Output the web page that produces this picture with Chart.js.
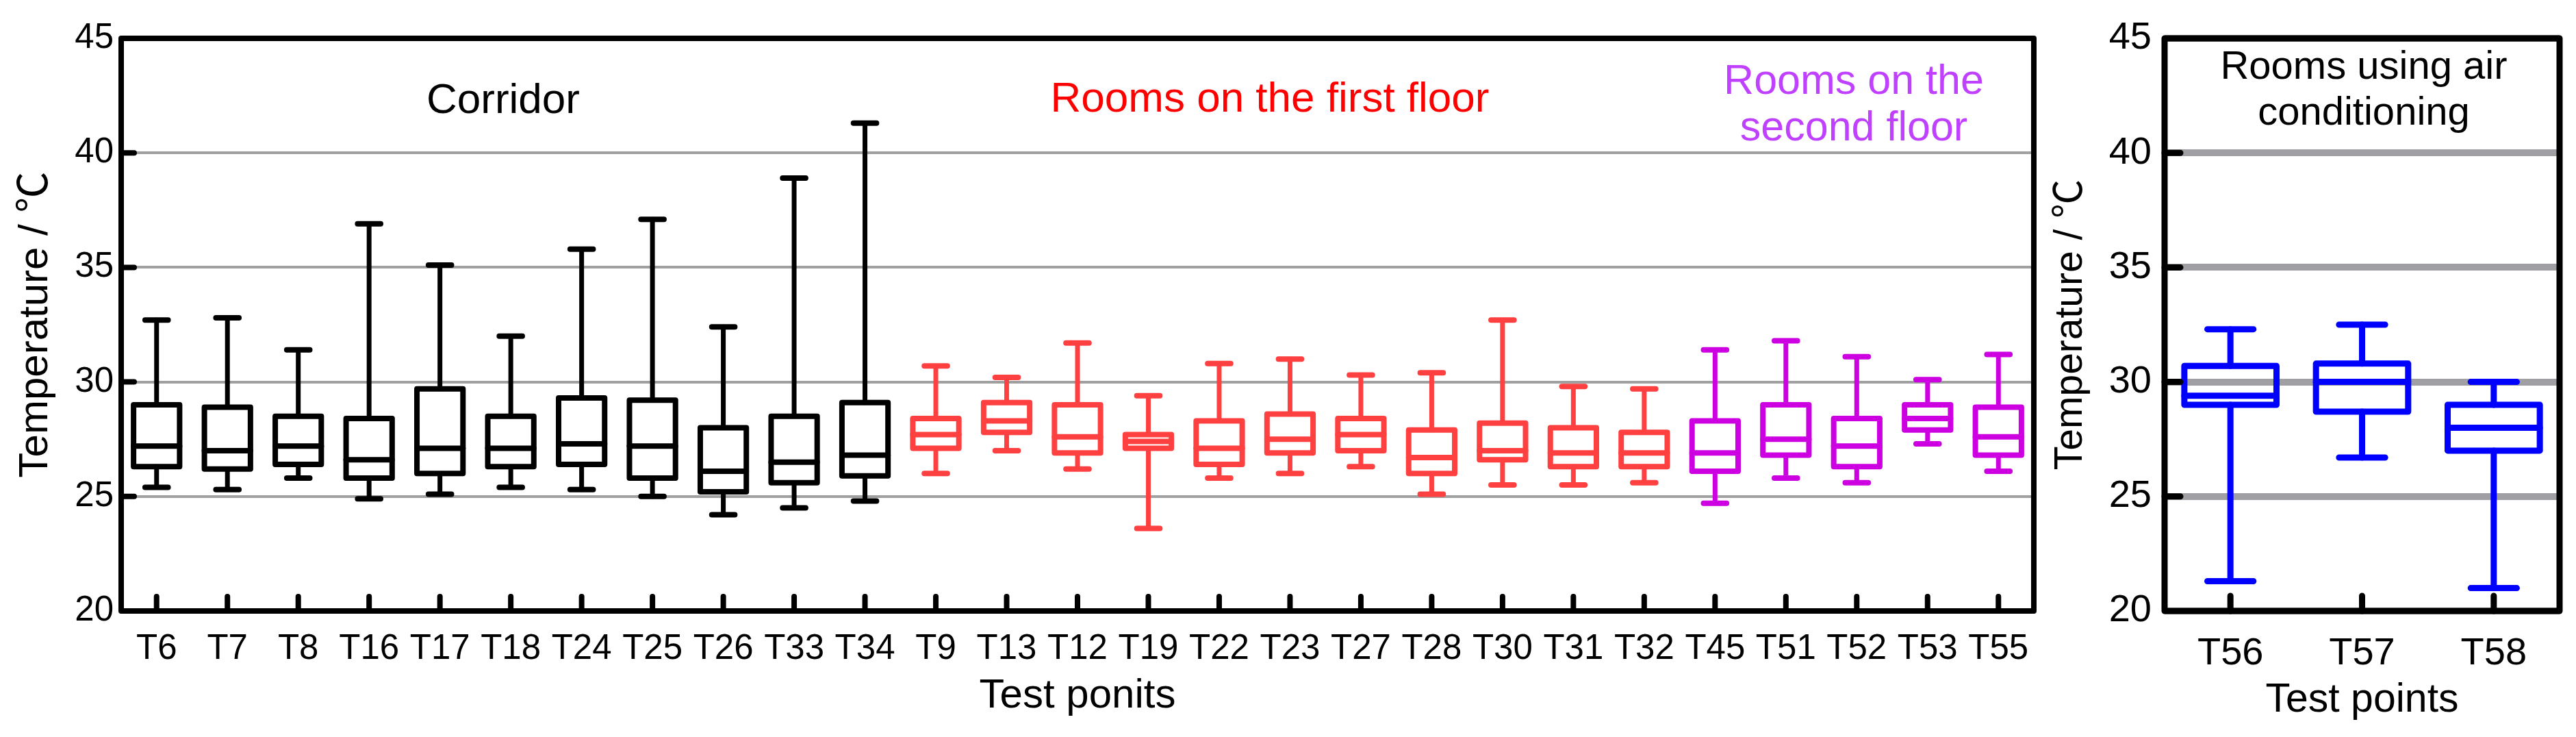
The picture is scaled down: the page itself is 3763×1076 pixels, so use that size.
<!DOCTYPE html>
<html>
<head>
<meta charset="utf-8">
<script src="https://cdn.jsdelivr.net/npm/chart.js@4.4.0/dist/chart.umd.min.js"></script>
<style>
html,body{margin:0;padding:0;background:#fff;}
#wrap{position:relative;width:3763px;height:1076px;}
#c1{position:absolute;left:0;top:0;}
#c2{position:absolute;left:2990px;top:0;}
</style>
</head>
<body>
<div id="wrap">
  <canvas id="c1" width="2990" height="1076"></canvas>
  <canvas id="c2" width="773" height="1076"></canvas>
</div>
<script>
const FONT = "'Liberation Sans', Arial, sans-serif";
const TITLE_FONT = "'Liberation Sans', Arial, 'Noto Sans CJK SC', sans-serif";

// left panel: test points by group
const corridor = ['T6','T7','T8','T16','T17','T18','T24','T25','T26','T33','T34'];
const floor1 = ['T9','T13','T12','T19','T22','T23','T27','T28','T30','T31','T32'];
const floor2 = ['T45','T51','T52','T53','T55'];
const points = [...corridor, ...floor1, ...floor2];

const tMin = [25.4,25.3,25.8,24.9,25.1,25.4,25.3,25.0,24.2,24.5,24.8,
              26.0,27.0,26.2,23.6,25.8,26.0,26.3,25.1,25.5,25.5,25.6,
              24.7,25.8,25.6,27.3,26.1];
const tQ1  = [26.3,26.2,26.4,25.8,26.0,26.3,26.4,25.8,25.2,25.6,25.9,
              27.1,27.8,26.9,27.1,26.4,26.9,27.0,26.0,26.6,26.3,26.3,
              26.1,26.8,26.3,27.9,26.8];
const tMed = [27.2,27.0,27.2,26.6,27.1,27.1,27.3,27.2,26.1,26.5,26.8,
              27.7,28.3,27.6,27.4,27.1,27.5,27.7,26.7,27.0,26.9,26.9,
              26.9,27.5,27.2,28.4,27.6];
const tQ3  = [29.0,28.9,28.5,28.4,29.7,28.5,29.3,29.2,28.0,28.5,29.1,
              28.4,29.1,29.0,27.7,28.3,28.6,28.4,27.9,28.2,28.0,27.8,
              28.3,29.0,28.4,29.0,28.9];
const tMax = [32.7,32.8,31.4,36.9,35.1,32.0,35.8,37.1,32.4,38.9,41.3,
              30.7,30.2,31.7,29.4,30.8,31.0,30.3,30.4,32.7,29.8,29.7,
              31.4,31.8,31.1,30.1,31.2];

// right panel: air-conditioned rooms
const acPoints = ['T56','T57','T58'];
const acMin = [21.3,26.7,21.0];
const acQ1  = [29.0,28.7,27.0];
const acMed = [29.4,30.0,28.0];
const acQ3  = [30.7,30.8,29.0];
const acMax = [32.3,32.5,30.0];

const yTicks = [20,25,30,35,40,45];

const colCorridor = '#000000', colFloor1 = '#ff4040', colFloor2 = '#cc00e0', colAC = '#0000ff';
const leftColors = points.map(p => corridor.includes(p) ? colCorridor : floor1.includes(p) ? colFloor1 : colFloor2);

function boxPlugin(o) {
  return {
    id: 'boxes',
    afterDatasetsDraw(chart) {
      const ctx = chart.ctx, y = chart.scales.y;
      const bars = chart.getDatasetMeta(0).data;
      ctx.save();
      ctx.lineCap = 'round';
      ctx.lineJoin = 'round';
      bars.forEach((bar, i) => {
        const x = bar.x, hw = bar.width / 2, cw = hw * 0.5;
        const pMin = y.getPixelForValue(o.min[i]), pQ1 = y.getPixelForValue(o.q1[i]);
        const pMed = y.getPixelForValue(o.med[i]), pQ3 = y.getPixelForValue(o.q3[i]);
        const pMax = y.getPixelForValue(o.max[i]);
        ctx.strokeStyle = o.colors[i];
        ctx.lineWidth = o.whisker;
        ctx.beginPath();
        ctx.moveTo(x, pMax); ctx.lineTo(x, pQ3);
        ctx.moveTo(x, pQ1); ctx.lineTo(x, pMin);
        ctx.stroke();
        ctx.lineWidth = o.lw;
        ctx.beginPath();
        ctx.moveTo(x - cw, pMax); ctx.lineTo(x + cw, pMax);
        ctx.moveTo(x - cw, pMin); ctx.lineTo(x + cw, pMin);
        ctx.stroke();
        ctx.beginPath();
        ctx.rect(x - hw, pQ3, hw * 2, pQ1 - pQ3);
        ctx.stroke();
        ctx.beginPath();
        ctx.moveTo(x - hw, pMed); ctx.lineTo(x + hw, pMed);
        ctx.stroke();
      });
      ctx.restore();
    },
    afterDraw(chart) {
      const ctx = chart.ctx, a = chart.chartArea, y = chart.scales.y, xs = chart.scales.x;
      ctx.save();
      ctx.strokeStyle = '#000';
      ctx.lineCap = 'round';
      // inward ticks
      ctx.lineWidth = o.tickW;
      ctx.beginPath();
      y.ticks.forEach(t => {
        if (t.value <= 20 || t.value >= 45) return;
        const py = y.getPixelForValue(t.value);
        ctx.moveTo(a.left, py); ctx.lineTo(a.left + o.yTickLen, py);
      });
      xs.ticks.forEach((t, i) => {
        const px = xs.getPixelForTick(i);
        ctx.moveTo(px, a.bottom); ctx.lineTo(px, a.bottom - o.xTickLen);
      });
      ctx.stroke();
      // frame
      ctx.lineJoin = 'round';
      ctx.lineWidth = o.frame;
      ctx.strokeRect(a.left, a.top, a.right - a.left, a.bottom - a.top);
      // group notes
      ctx.textAlign = 'center';
      ctx.textBaseline = 'alphabetic';
      o.notes.forEach(n => {
        ctx.font = n.size + 'px ' + FONT;
        ctx.fillStyle = n.color;
        ctx.fillText(n.text, n.x, n.y);
      });
      ctx.restore();
    }
  };
}

function makeChart(id, labels, mn, q1, md, q3, mx, colors, cfg) {
  return new Chart(document.getElementById(id), {
    type: 'bar',
    data: {
      labels: labels,
      datasets: [{
        data: labels.map((_, i) => [q1[i], q3[i]]),
        backgroundColor: 'rgba(0,0,0,0)',
        borderWidth: 0,
        categoryPercentage: 1,
        barPercentage: cfg.barPct
      }]
    },
    options: {
      responsive: false,
      animation: false,
      events: [],
      layout: {autoPadding: false, padding: {left: 0, top: 56, right: cfg.padRight, bottom: 0}},
      plugins: {legend: {display: false}, tooltip: {enabled: false}},
      scales: {
        x: {
          grid: {display: false, drawTicks: false},
          border: {display: false},
          ticks: {autoSkip: false, maxRotation: 0, color: '#000', padding: cfg.xPad,
                  font: {family: FONT, size: cfg.tickSize}},
          title: {display: true, text: cfg.xTitle, color: '#000',
                  font: {family: FONT, size: cfg.xTitleSize}, padding: {top: 0, bottom: cfg.xTitlePad}},
          afterFit: s => { s.height = 184; }
        },
        y: {
          min: 20, max: 45,
          afterBuildTicks: s => { s.ticks = yTicks.map(v => ({value: v})); },
          grid: {color: cfg.gridColor, lineWidth: cfg.gridW, drawTicks: false},
          border: {display: false},
          ticks: {color: '#000', padding: cfg.yPad, font: {family: FONT, size: cfg.tickSize}},
          title: {display: true, text: 'Temperature / ℃', color: '#000',
                  font: {family: TITLE_FONT, size: cfg.yTitleSize}, padding: {top: cfg.yTitlePad, bottom: 0}},
          afterFit: s => { s.width = cfg.yWidth; }
        }
      }
    },
    plugins: [boxPlugin({min: mn, q1: q1, med: md, q3: q3, max: mx, colors: colors,
      lw: cfg.lw, whisker: cfg.whisker, frame: cfg.frame, tickW: cfg.tickW,
      yTickLen: cfg.yTickLen, xTickLen: cfg.xTickLen, notes: cfg.notes})]
  });
}

makeChart('c1', points, tMin, tQ1, tMed, tQ3, tMax, leftColors, {
  barPct: 0.65, padRight: 19, yWidth: 177, tickSize: 51, xPad: 25, yPad: 11,
  xTitle: 'Test ponits', xTitleSize: 60, xTitlePad: 24, yTitleSize: 60, yTitlePad: 16,
  gridColor: '#a0a0a0', gridW: 4, lw: 8, whisker: 7, frame: 8, tickW: 8, yTickLen: 19, xTickLen: 21,
  notes: [
    {text: 'Corridor', x: 735, y: 165, size: 62, color: '#000'},
    {text: 'Rooms on the first floor', x: 1855, y: 163, size: 62, color: '#ff0000'},
    {text: 'Rooms on the', x: 2708, y: 137, size: 61, color: '#c040ff'},
    {text: 'second floor', x: 2708, y: 205, size: 61, color: '#c040ff'}
  ]
});

makeChart('c2', acPoints, acMin, acQ1, acMed, acQ3, acMax, acPoints.map(() => colAC), {
  barPct: 0.70, padRight: 24, yWidth: 172, tickSize: 56, xPad: 29, yPad: 19,
  xTitle: 'Test points', xTitleSize: 59, xTitlePad: 18, yTitleSize: 57, yTitlePad: 1,
  gridColor: '#a0a0a4', gridW: 10, lw: 9, whisker: 9, frame: 9, tickW: 9, yTickLen: 23, xTickLen: 22,
  notes: [
    {text: 'Rooms using air', x: 463, y: 115, size: 58, color: '#000'},
    {text: 'conditioning', x: 463, y: 182, size: 58, color: '#000'}
  ]
});
</script>
</body>
</html>
